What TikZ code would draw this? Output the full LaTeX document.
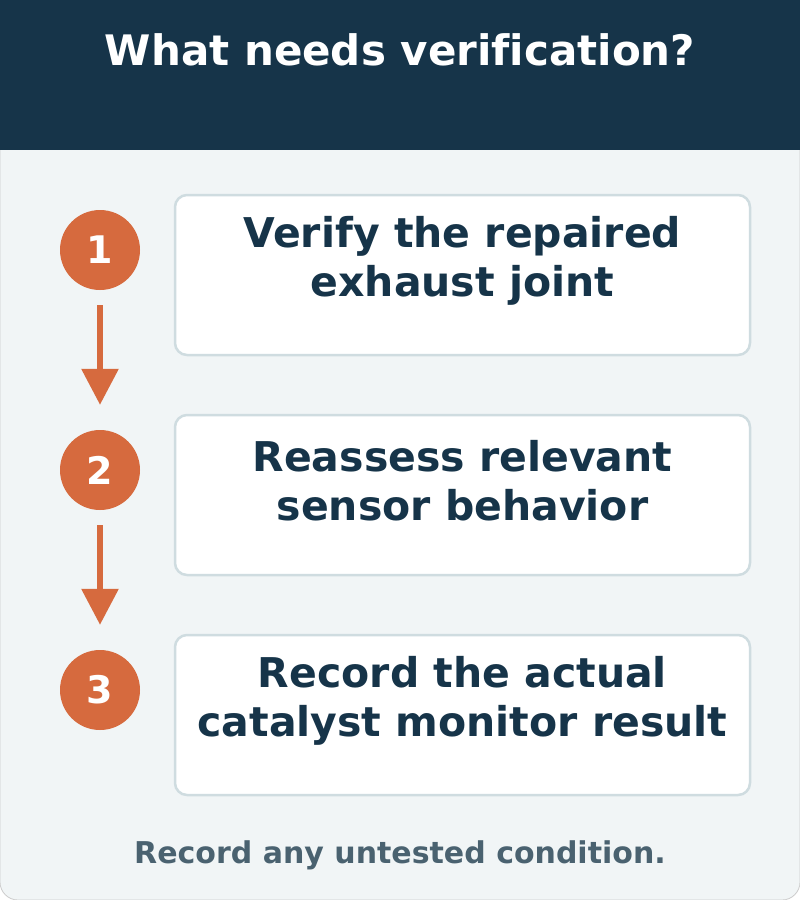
\documentclass[tikz,border=0pt]{standalone}
\usepackage{fontspec}
\setmainfont{DejaVu Sans}[Ligatures=NoCommon]
\usepackage{xcolor}
\usetikzlibrary{arrows.meta,positioning,calc}
\definecolor{HeadNavy}{HTML}{163449}
\definecolor{StepOrange}{HTML}{D66A3E}
\definecolor{PageGray}{HTML}{F1F5F6}
\definecolor{BoxEdge}{HTML}{CFDCE0}
\definecolor{NoteSlate}{HTML}{4A6270}

\begin{document}
\begin{tikzpicture}[
  x=1pt, y=-1pt,
  stepbox/.style={draw=BoxEdge, line width=2.5pt, fill=white, rounded corners=12pt,
    minimum width=575pt, minimum height=160pt, inner sep=0pt},
  steptext/.style={align=center, text=HeadNavy, font=\fontsize{41}{49}\selectfont\bfseries},
  badge/.style={circle, fill=StepOrange, minimum size=80pt, inner sep=0pt,
    text=white, font=\fontsize{38}{38}\selectfont\bfseries},
  arrow/.style={-{Triangle[length=36pt,width=36pt]}, line width=6pt, draw=StepOrange}
]
\useasboundingbox (0,0) rectangle (800,900);
\fill[PageGray, draw=black!20, line width=0.8pt, rounded corners=18pt] (0,0) rectangle (800,900);
\fill[HeadNavy] (0,0) rectangle (800,150);
\node[text=white, font=\fontsize{42}{42}\selectfont\bfseries] (title) at (400,50) {What needs verification?};

\node[badge] (c1) at (100,250) {1};
\node[badge] (c2) at (100,470) {2};
\node[badge] (c3) at (100,690) {3};

\node[stepbox] (b1) at (462.5,275) {};
\node[stepbox] (b2) at (462.5,495) {};
\node[stepbox] (b3) at (462.5,715) {};
\node[steptext] (t1) at ([yshift=14pt]b1.center) {Verify the repaired\\exhaust joint};
\node[steptext] (t2) at ([yshift=14pt]b2.center) {Reassess relevant\\sensor behavior};
\node[steptext] (t3) at ([yshift=14pt]b3.center) {Record the actual\\catalyst monitor result};

\draw[arrow] ([yshift=-15pt]c1.south) -- ([yshift=25pt]c2.north);
\draw[arrow] ([yshift=-15pt]c2.south) -- ([yshift=25pt]c3.north);

\node[text=NoteSlate, font=\fontsize{30}{30}\selectfont\bfseries] (note) at (400,855) {Record any untested condition.};
\end{tikzpicture}
\end{document}
